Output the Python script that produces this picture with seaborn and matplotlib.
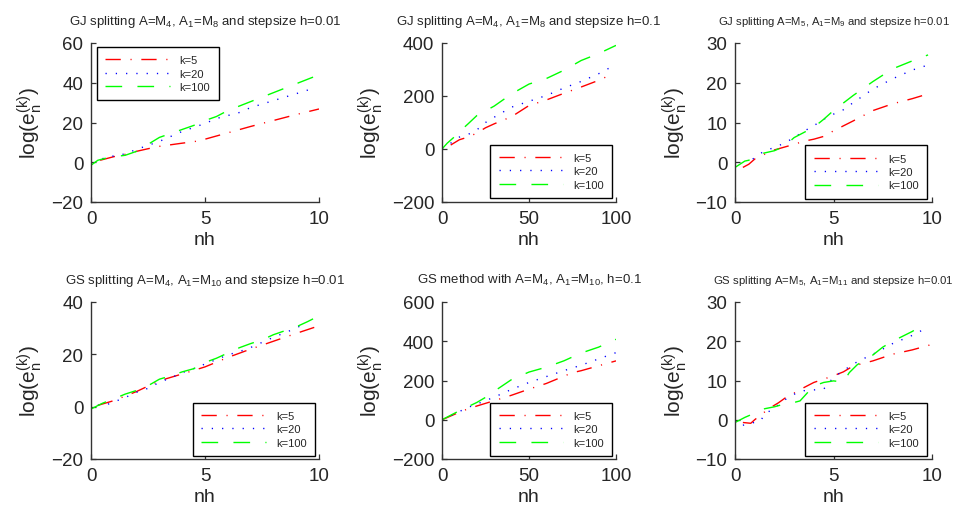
import matplotlib
matplotlib.use("Agg")
import matplotlib.pyplot as plt
import numpy as np
import pandas as pd
import seaborn as sns

# ---------------------------------------------------------------- data
series_labels = ["k=5", "k=20", "k=100"]

# GJ splitting A=M4, A1=M8, h=0.01
gj48_x5 = [0.4, 1.0, 1.5, 2.0, 2.5, 3.0, 3.5, 4.0, 4.5, 5.0, 5.5, 6.0, 7.0, 8.0, 9.0, 10.0]
gj48_y5 = [1.0, 2.8, 4.0, 5.5, 6.8, 8.0, 8.8, 9.6, 10.3, 11.6, 13.2, 14.8, 18.0, 21.0, 24.0, 26.8]
gj48_x20 = [0.5, 1.0, 1.5, 2.0, 2.5, 3.0, 3.5, 4.0, 4.5, 5.0, 5.5, 6.0, 6.5, 7.0, 8.0, 9.0, 9.7]
gj48_y20 = [1.8, 3.2, 4.2, 6.5, 8.5, 10.5, 13.0, 15.5, 17.5, 19.5, 22.0, 23.5, 25.0, 27.5, 31.0, 34.5, 37.0]
gj48_x100 = [0.0, 0.3, 0.7, 1.0, 1.5, 2.0, 2.5, 3.0, 3.5, 4.0, 4.5, 5.0, 5.5, 6.0, 7.0, 8.0, 9.0, 10.0]
gj48_y100 = [-1.5, 1.0, 2.2, 2.8, 3.5, 5.5, 9.0, 12.5, 14.5, 16.5, 18.5, 21.0, 23.0, 26.0, 30.5, 35.0, 39.5, 44.0]

# GJ splitting A=M4, A1=M8, h=0.1
gj48b_x5 = [5, 10, 15, 20, 25, 30, 40, 50, 60, 70, 80, 90, 97]
gj48b_y5 = [15, 35, 45, 60, 80, 95, 122, 164, 185, 210, 234, 259, 280]
gj48b_x20 = [0, 5, 10, 15, 20, 25, 30, 40, 50, 60, 70, 80, 90, 98]
gj48b_y20 = [0, 22, 45, 55, 72, 100, 120, 158, 180, 202, 230, 255, 284, 312]
gj48b_x100 = [0, 3, 7, 10, 15, 20, 30, 40, 50, 60, 70, 80, 90, 100]
gj48b_y100 = [0, 22, 45, 65, 95, 126, 162, 208, 245, 266, 297, 334, 360, 391]

# GJ splitting A=M5, A1=M9, h=0.01
gj59_x5 = [0.4, 0.7, 1.0, 1.5, 2.0, 2.5, 3.0, 3.5, 4.0, 4.5, 5.0, 6.0, 7.0, 8.0, 9.0, 9.8]
gj59_y5 = [-1.3, -0.5, 0.8, 2.0, 3.1, 3.8, 4.5, 5.3, 5.8, 6.5, 7.9, 10.4, 13.0, 14.7, 16.0, 17.2]
gj59_x20 = [0.9, 1.5, 2.0, 2.5, 3.0, 3.5, 4.0, 4.5, 5.0, 5.5, 6.0, 7.0, 8.0, 9.0, 9.7]
gj59_y20 = [0.8, 2.9, 3.7, 4.8, 6.2, 7.8, 9.2, 10.8, 12.1, 13.2, 15.0, 18.4, 21.0, 23.2, 24.3]
gj59_x100 = [0.0, 0.5, 0.7, 1.2, 2.0, 2.5, 3.0, 3.5, 4.0, 4.5, 5.0, 6.0, 7.0, 8.0, 9.0, 9.8]
gj59_y100 = [-1.3, 0.3, 0.5, 2.0, 2.9, 4.0, 6.2, 7.5, 8.8, 10.8, 13.0, 16.8, 20.3, 23.5, 25.5, 27.0]

# GS splitting A=M4, A1=M10, h=0.01
gs410_x5 = [0.3, 1.0, 2.0, 3.0, 4.0, 5.0, 6.0, 7.0, 8.0, 9.0, 10.0]
gs410_y5 = [0.5, 2.3, 5.8, 9.9, 12.5, 15.2, 18.8, 22.0, 25.0, 28.0, 30.9]
gs410_x20 = [0.3, 0.7, 1.0, 1.5, 2.0, 2.5, 3.0, 3.5, 4.0, 4.5, 5.0, 5.5, 6.0, 6.5, 7.0, 8.0, 9.0, 9.3]
gs410_y20 = [0.5, 0.8, 1.8, 3.5, 5.5, 7.0, 9.3, 11.0, 13.0, 14.5, 16.3, 18.0, 19.8, 21.0, 22.6, 26.5, 30.0, 31.5]
gs410_x100 = [0.0, 0.5, 1.0, 1.5, 2.0, 2.5, 3.0, 3.5, 4.0, 4.5, 5.0, 5.5, 6.0, 6.5, 7.0, 7.5, 8.0, 8.5, 9.0, 9.5, 10.0]
gs410_y100 = [-0.9, 1.3, 3.0, 4.8, 6.2, 8.0, 10.5, 11.8, 13.3, 14.5, 16.9, 18.5, 20.5, 22.5, 24.1, 25.5, 27.5, 29.0, 30.5, 32.5, 34.7]

# GS method A=M4, A1=M10, h=0.1
gs410b_x5 = [0, 12, 20, 30, 40, 50, 60, 75, 80, 90, 100]
gs410b_y5 = [0, 46, 70, 97, 125, 156, 185, 240, 250, 275, 300]
gs410b_x20 = [0, 10, 15, 20, 30, 40, 50, 60, 70, 80, 90, 100]
gs410b_y20 = [0, 42, 63, 80, 115, 155, 190, 220, 250, 278, 310, 342]
gs410b_x100 = [0, 10, 20, 25, 30, 40, 50, 60, 70, 80, 90, 100]
gs410b_y100 = [0, 46, 88, 114, 145, 205, 243, 268, 300, 340, 370, 410]

# GS splitting A=M5, A1=M11, h=0.01
gs511_x5 = [0.4, 0.8, 1.0, 1.3, 1.8, 2.2, 2.7, 3.0, 3.5, 4.0, 5.0, 5.5, 6.0, 7.0, 8.0, 9.0, 10.0]
gs511_y5 = [-0.7, -0.9, 0.0, 1.2, 3.1, 4.3, 6.1, 6.8, 8.2, 9.5, 11.2, 12.2, 13.7, 15.0, 16.7, 17.8, 19.2]
gs511_x20 = [0.4, 0.8, 1.3, 1.5, 2.0, 2.7, 3.0, 3.5, 4.0, 4.5, 5.0, 5.5, 6.0, 6.5, 7.0, 7.5, 8.0, 9.0, 9.5]
gs511_y20 = [-1.4, -0.9, -0.3, 1.4, 3.0, 5.7, 6.5, 7.4, 7.6, 7.8, 10.8, 12.5, 14.2, 15.5, 16.7, 18.0, 19.4, 21.5, 22.8]
gs511_x100 = [0.0, 0.5, 1.1, 1.5, 2.0, 2.5, 3.0, 3.3, 3.7, 4.0, 4.5, 5.0, 5.5, 5.8, 6.2, 7.0, 7.5, 8.0, 9.0, 9.7]
gs511_y100 = [-0.7, 0.6, 1.9, 2.8, 3.3, 4.0, 4.4, 4.8, 7.0, 8.6, 9.5, 9.9, 9.6, 12.0, 14.0, 16.5, 18.5, 20.0, 22.5, 24.7]

# ---------------------------------------------------------------- style
sns.set_style("white")
plt.rcParams["font.family"] = ["Liberation Sans", "DejaVu Sans"]
plt.rcParams["mathtext.default"] = "regular"
plt.rcParams["axes.unicode_minus"] = True

palette = {"k=5": "#ff0000", "k=20": "#0000ff", "k=100": "#00ff00"}
dash_map = {"k=5": (11, 7, 0.8, 7), "k=20": (0.9, 6.5), "k=100": (12, 11)}

W, H = 955, 510
fig = plt.figure(figsize=(W / 100, H / 100), dpi=100)


def add_axes(x0, y0, x1, y1):
    return fig.add_axes([x0 / W, 1 - y1 / H, (x1 - x0) / W, (y1 - y0) / H])


def long_frame(xs, ys):
    rows = []
    for lab, x, y in zip(series_labels, xs, ys):
        rows.append(pd.DataFrame({"nh": x, "loge": y, "k": lab}))
    return pd.concat(rows, ignore_index=True)


panels = [
    dict(rect=(91, 44, 319, 203),
         title=r"GJ splitting A=M$_4$, A$_1$=M$_8$ and stepsize h=0.01", tsize=9.5,
         xs=(gj48_x5, gj48_x20, gj48_x100), ys=(gj48_y5, gj48_y20, gj48_y100),
         xlim=(0, 10), xticks=[0, 5, 10], ylim=(-20, 60), yticks=[-20, 0, 20, 40, 60],
         loc="upper left", anchor=(0.026, 0.975)),
    dict(rect=(442, 44, 616, 203),
         title=r"GJ splitting A=M$_4$, A$_1$=M$_8$ and stepsize h=0.1", tsize=9.5,
         xs=(gj48b_x5, gj48b_x20, gj48b_x100), ys=(gj48b_y5, gj48b_y20, gj48b_y100),
         xlim=(0, 100), xticks=[0, 50, 100], ylim=(-200, 400), yticks=[-200, 0, 200, 400],
         loc="lower right", anchor=(0.977, 0.025)),
    dict(rect=(735, 44, 932, 203),
         title=r"GJ splitting A=M$_5$, A$_1$=M$_9$ and stepsize h=0.01", tsize=8.1,
         xs=(gj59_x5, gj59_x20, gj59_x100), ys=(gj59_y5, gj59_y20, gj59_y100),
         xlim=(0, 10), xticks=[0, 5, 10], ylim=(-10, 30), yticks=[-10, 0, 10, 20, 30],
         loc="lower right", anchor=(0.975, 0.02)),
    dict(rect=(91, 303, 319, 460),
         title=r"GS splitting A=M$_4$, A$_1$=M$_{10}$ and stepsize h=0.01", tsize=9.5,
         xs=(gs410_x5, gs410_x20, gs410_x100), ys=(gs410_y5, gs410_y20, gs410_y100),
         xlim=(0, 10), xticks=[0, 5, 10], ylim=(-20, 40), yticks=[-20, 0, 20, 40],
         loc="lower right", anchor=(0.982, 0.02)),
    dict(rect=(442, 303, 616, 460),
         title=r"GS method with A=M$_4$, A$_1$=M$_{10}$, h=0.1", tsize=9.5,
         xs=(gs410b_x5, gs410b_x20, gs410b_x100), ys=(gs410b_y5, gs410b_y20, gs410b_y100),
         xlim=(0, 100), xticks=[0, 50, 100], ylim=(-200, 600), yticks=[-200, 0, 200, 400, 600],
         loc="lower right", anchor=(0.977, 0.02)),
    dict(rect=(735, 303, 932, 460),
         title=r"GS splitting A=M$_5$, A$_1$=M$_{11}$ and stepsize h=0.01", tsize=8.2,
         xs=(gs511_x5, gs511_x20, gs511_x100), ys=(gs511_y5, gs511_y20, gs511_y100),
         xlim=(0, 10), xticks=[0, 5, 10], ylim=(-10, 30), yticks=[-10, 0, 10, 20, 30],
         loc="lower right", anchor=(0.975, 0.02)),
]

for p in panels:
    ax = add_axes(*p["rect"])
    df = long_frame(p["xs"], p["ys"])
    sns.lineplot(data=df, x="nh", y="loge", hue="k", style="k",
                 hue_order=series_labels, style_order=series_labels,
                 palette=palette, dashes=dash_map, estimator=None, sort=False,
                 linewidth=1.0, legend=False, ax=ax)

    ax.set_xlim(*p["xlim"])
    ax.set_ylim(*p["ylim"])
    ax.set_xticks(p["xticks"])
    ax.set_yticks(p["yticks"])
    ax.tick_params(axis="both", which="both", direction="in", length=3.5, width=0.9,
                   color="#333333", labelsize=13.5, pad=5.5, left=True, bottom=True,
                   top=False, right=False)
    for side in ("top", "right"):
        ax.spines[side].set_visible(False)
    for side in ("left", "bottom"):
        ax.spines[side].set_color("#333333")
        ax.spines[side].set_linewidth(1.0)

    ax.set_xlabel("nh", fontsize=14, labelpad=3)
    ax.set_ylabel(r"log(e$_{n}^{(k)}$)", fontsize=15, labelpad=5)
    ax.set_title(p["title"], fontsize=p["tsize"], pad=14)

    leg = ax.legend(ax.get_lines(), series_labels, loc=p["loc"],
                    bbox_to_anchor=p["anchor"], borderaxespad=0, fontsize=8,
                    frameon=True, fancybox=False, handlelength=5.8,
                    handletextpad=0.9, borderpad=0.75, labelspacing=0.3)
    frame = leg.get_frame()
    frame.set_edgecolor("black")
    frame.set_linewidth(1.0)
    frame.set_facecolor("white")
    frame.set_alpha(1.0)

fig.savefig("out.png", dpi=100, facecolor="white")
